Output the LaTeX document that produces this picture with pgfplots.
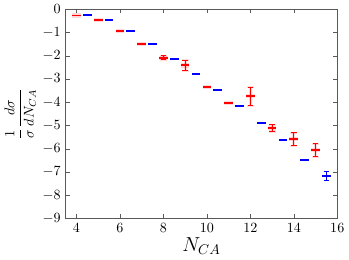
\documentclass[border=0pt]{standalone}
\usepackage{pgfplots}
\pgfplotsset{compat=1.18}
\usepackage{pgfplotstable}
\pgfplotstableread{
x y ex ey
4 -0.27 0.2 0.02
5 -0.48 0.2 0.02
6 -0.95 0.2 0.02
7 -1.50 0.2 0.02
8 -2.09 0.2 0.09
9 -2.42 0.2 0.23
10 -3.35 0.2 0.05
11 -4.04 0.2 0.04
12 -3.75 0.2 0.40
13 -5.12 0.2 0.14
14 -5.60 0.2 0.28
15 -6.06 0.2 0.28
}\red
\pgfplotstableread{
x y ey
8 -2.09 0.09
9 -2.42 0.23
12 -3.75 0.40
13 -5.12 0.14
14 -5.60 0.28
15 -6.06 0.28
}\redv
\pgfplotstableread{
x y ex ey
4.5 -0.26 0.2 0.02
5.5 -0.48 0.2 0.02
6.5 -0.93 0.2 0.02
7.5 -1.50 0.2 0.02
8.5 -2.15 0.2 0.02
9.5 -2.80 0.2 0.02
10.5 -3.46 0.2 0.02
11.5 -4.18 0.2 0.02
12.5 -4.88 0.2 0.02
13.5 -5.64 0.2 0.02
14.5 -6.49 0.2 0.04
15.5 -7.19 0.2 0.20
}\blue
\pgfplotstableread{
x y ey
15.5 -7.19 0.20
}\bluev
\begin{document}
\begin{tikzpicture}
\begin{axis}[
  scale only axis, width=193pt, height=148.6pt,
  xmin=3.5, xmax=16, ymin=-9, ymax=0,
  xtick={4,6,...,16}, ytick={-9,-8,...,0},
  tick align=inside, major tick length=3pt,
  axis line style={gray!70!black, line width=0.6pt},
  tick style={gray!70!black},
  xlabel={\Large $N_{CA}$},
  ylabel={$\displaystyle\frac{1}{\sigma}\frac{d\sigma}{dN_{CA}}$},
  xlabel style={yshift=3pt},
  ylabel style={yshift=-2pt},
]
% halo
\addplot[draw=none, mark=none, forget plot, error bars/.cd, x dir=both, x explicit, error bar style={red, opacity=0.15, line width=3pt}, error mark=none]
  table[x=x, y=y, x error=ex] {\red};
\addplot[draw=none, mark=none, forget plot, error bars/.cd, y dir=both, y explicit, error bar style={red, opacity=0.15, line width=2pt}, error mark options={rotate=90, red, opacity=0.15, line width=1.5pt, mark size=2.5pt}]
  table[x=x, y=y, y error=ey] {\redv};
% red
\addplot[draw=none, mark=none, error bars/.cd, x dir=both, x explicit, error bar style={red, line width=1.4pt}, error mark=none]
  table[x=x, y=y, x error=ex] {\red};
\addplot[draw=none, mark=none, error bars/.cd, y dir=both, y explicit, error bar style={red, line width=0.7pt}, error mark options={rotate=90, red, line width=0.7pt, mark size=2pt}]
  table[x=x, y=y, y error=ey] {\redv};
% blue
\addplot[draw=none, mark=none, error bars/.cd, x dir=both, x explicit, error bar style={blue, line width=1.4pt}, error mark=none]
  table[x=x, y=y, x error=ex] {\blue};
\addplot[draw=none, mark=none, error bars/.cd, y dir=both, y explicit, error bar style={blue, line width=0.7pt}, error mark options={rotate=90, blue, line width=0.7pt, mark size=2pt}]
  table[x=x, y=y, y error=ey] {\bluev};
\end{axis}
\end{tikzpicture}
\end{document}
